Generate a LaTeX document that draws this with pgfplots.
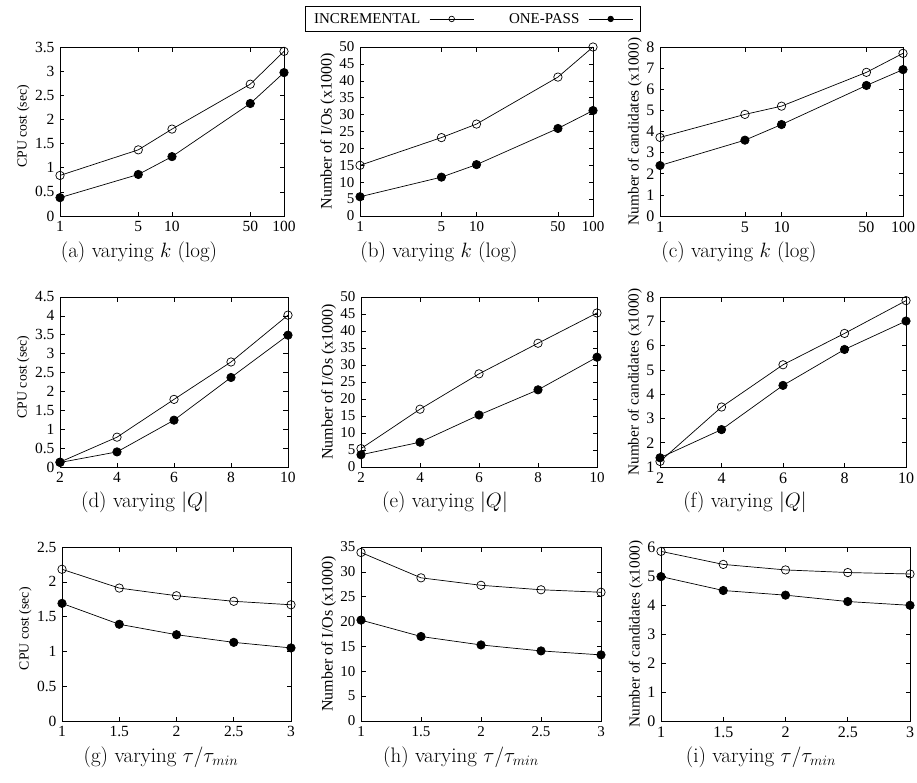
\documentclass[border=0pt]{standalone}
\usepackage{fontspec}
\usepackage{pgfplots}
\pgfplotsset{compat=1.18}
\newfontfamily\tms{Liberation Serif}

\newcommand{\capfont}{\fontsize{21}{25}\selectfont}

\pgfplotsset{
  panel/.style={
    scale only axis, clip=false,
    tick align=inside,
    axis line style={line width=0.9pt},
    every tick/.style={black, line width=0.6pt},
    major tick length=4.5pt,
    /pgf/number format/assume math mode=true,
    yticklabel style={/pgf/number format/fixed, /pgf/number format/precision=1,
                      xshift=-2pt},
    xticklabel style={/pgf/number format/fixed, /pgf/number format/precision=1,
                      yshift=-2pt},
  },
  colA/.style={tick label style={font=\tms\fontsize{15.5}{16}\selectfont},
               ylabel style={font=\tms\fontsize{13.8}{14}\selectfont, inner sep=2pt,
                             at={(ticklabel cs:0.53)}}},
  colB/.style={tick label style={font=\tms\fontsize{15}{15}\selectfont},
               ylabel style={font=\tms\fontsize{16}{16}\selectfont, inner sep=1pt}},
  colC/.style={tick label style={font=\tms\fontsize{16}{16}\selectfont},
               ylabel style={font=\tms\fontsize{15.3}{16}\selectfont, inner sep=1pt}},
  logk/.style={xmin=1, xmax=100, xtick={1,5,10,50,100},
               xticklabels={1,5,10,50,100}},
  sizeq/.style={xmin=2, xmax=10, xtick={2,4,6,8,10}},
  tau/.style={xmin=1, xmax=3, xtick={1,1.5,2,2.5,3}},
  inc/.style={black, line width=0.7pt, mark=o, mark size=4.2pt,
              mark options={line width=0.7pt}},
  one/.style={black, line width=0.7pt, mark=*, mark size=4.2pt,
              mark options={fill=black}},
}

\begin{document}
\begin{tikzpicture}
\useasboundingbox (0pt,0pt) rectangle (917pt,-782pt);

% ---------- row 1: varying k ----------
\begin{axis}[xmode=log, panel, colA, logk, at={(60pt,-47pt)}, anchor=north west,
  width=224pt, height=169pt, ymin=0, ymax=3.5, ytick distance=0.5,
  ylabel={CPU cost (sec)}]
\addplot[inc] coordinates {(1,0.84)(5,1.37)(10,1.80)(50,2.73)(100,3.41)};
\addplot[one] coordinates {(1,0.38)(5,0.86)(10,1.23)(50,2.33)(100,2.97)};
\end{axis}

\begin{axis}[xmode=log, panel, colB, logk, at={(360pt,-47pt)}, anchor=north west,
  width=233pt, height=169pt, ymin=0, ymax=50, ytick distance=5,
  ylabel={Number of I/Os (x1000)},
  legend plot pos=right,
  legend columns=2,
  legend image code/.code={
    \draw[mark repeat=2, mark phase=2, #1, mark size=2.8pt]
      plot coordinates {(0pt,0pt) (22pt,0pt) (44pt,0pt)};},
  legend style={at={(axis description cs:0.483,1.166)}, anchor=center,
    draw=black, line width=0.8pt, font=\tms\fontsize{15}{15}\selectfont,
    inner xsep=7pt, inner ysep=5pt,
    /tikz/every odd column/.append style={column sep=7pt},
    /tikz/every even column/.append style={column sep=33pt}}]
\addplot[inc] coordinates {(1,15.0)(5,23.2)(10,27.2)(50,41.1)(100,50.0)};
\addlegendentry{INCREMENTAL}
\addplot[one] coordinates {(1,5.7)(5,11.5)(10,15.2)(50,25.9)(100,31.2)};
\addlegendentry{ONE-PASS}
\end{axis}

\begin{axis}[xmode=log, panel, colC, logk, at={(660pt,-47pt)}, anchor=north west,
  width=243pt, height=169pt, ymin=0, ymax=8, ytick distance=1,
  ylabel={Number of candidates (x1000)}]
\addplot[inc] coordinates {(1,3.72)(5,4.81)(10,5.20)(50,6.80)(100,7.70)};
\addplot[one] coordinates {(1,2.39)(5,3.59)(10,4.33)(50,6.18)(100,6.93)};
\end{axis}

% ---------- row 2: varying |Q| ----------
\begin{axis}[panel, colA, sizeq, at={(60pt,-297pt)}, anchor=north west,
  width=228pt, height=170pt, ymin=0, ymax=4.5, ytick distance=0.5,
  ylabel={CPU cost (sec)}]
\addplot[inc] coordinates {(2,0.13)(4,0.79)(6,1.79)(8,2.78)(10,4.02)};
\addplot[one] coordinates {(2,0.12)(4,0.40)(6,1.24)(8,2.37)(10,3.49)};
\end{axis}

\begin{axis}[panel, colB, sizeq, at={(361pt,-297pt)}, anchor=north west,
  width=236pt, height=170pt, ymin=0, ymax=50, ytick distance=5,
  ylabel={Number of I/Os (x1000)}]
\addplot[inc] coordinates {(2,5.4)(4,17.0)(6,27.4)(8,36.4)(10,45.3)};
\addplot[one] coordinates {(2,3.6)(4,7.3)(6,15.3)(8,22.7)(10,32.3)};
\end{axis}

\begin{axis}[panel, colC, sizeq, at={(660pt,-297pt)}, anchor=north west,
  width=246pt, height=170pt, ymin=1, ymax=8, ytick distance=1,
  ylabel={Number of candidates (x1000)}]
\addplot[inc] coordinates {(2,1.23)(4,3.47)(6,5.21)(8,6.50)(10,7.85)};
\addplot[one] coordinates {(2,1.38)(4,2.54)(6,4.36)(8,5.84)(10,7.01)};
\end{axis}

% ---------- row 3: varying tau/tau_min ----------
\begin{axis}[panel, colA, tau, at={(62pt,-547pt)}, anchor=north west,
  width=229pt, height=174pt, ymin=0, ymax=2.5, ytick distance=0.5,
  ylabel={CPU cost (sec)}]
\addplot[inc] coordinates {(1,2.18)(1.5,1.91)(2,1.80)(2.5,1.72)(3,1.67)};
\addplot[one] coordinates {(1,1.69)(1.5,1.39)(2,1.24)(2.5,1.13)(3,1.05)};
\end{axis}

\begin{axis}[panel, colB, tau, at={(361pt,-547pt)}, anchor=north west,
  width=240pt, height=174pt, ymin=0, ymax=35, ytick distance=5,
  ylabel={Number of I/Os (x1000)}]
\addplot[inc] coordinates {(1,33.9)(1.5,28.8)(2,27.3)(2.5,26.4)(3,25.9)};
\addplot[one] coordinates {(1,20.3)(1.5,17.0)(2,15.3)(2.5,14.1)(3,13.3)};
\end{axis}

\begin{axis}[panel, colC, tau, at={(661pt,-547pt)}, anchor=north west,
  width=249pt, height=174pt, ymin=0, ymax=6, ytick distance=1,
  ylabel={Number of candidates (x1000)}]
\addplot[inc] coordinates {(1,5.85)(1.5,5.40)(2,5.21)(2.5,5.12)(3,5.07)};
\addplot[one] coordinates {(1,4.98)(1.5,4.50)(2,4.34)(2.5,4.12)(3,3.99)};
\end{axis}

% ---------- sub-captions ----------
\node[font=\capfont] at (139pt,-252pt) {(a) varying $k$ (log)};
\node[font=\capfont] at (439pt,-252pt) {(b) varying $k$ (log)};
\node[font=\capfont] at (739pt,-252pt) {(c) varying $k$ (log)};
\node[font=\capfont] at (145pt,-502pt) {(d) varying $|Q|$};
\node[font=\capfont] at (445pt,-502pt) {(e) varying $|Q|$};
\node[font=\capfont] at (745pt,-502pt) {(f) varying $|Q|$};
\node[font=\capfont] at (161pt,-757pt) {(g) varying $\tau/\tau_{min}$};
\node[font=\capfont] at (461pt,-757pt) {(h) varying $\tau/\tau_{min}$};
\node[font=\capfont] at (761pt,-757pt) {(i) varying $\tau/\tau_{min}$};
\end{tikzpicture}
\end{document}
